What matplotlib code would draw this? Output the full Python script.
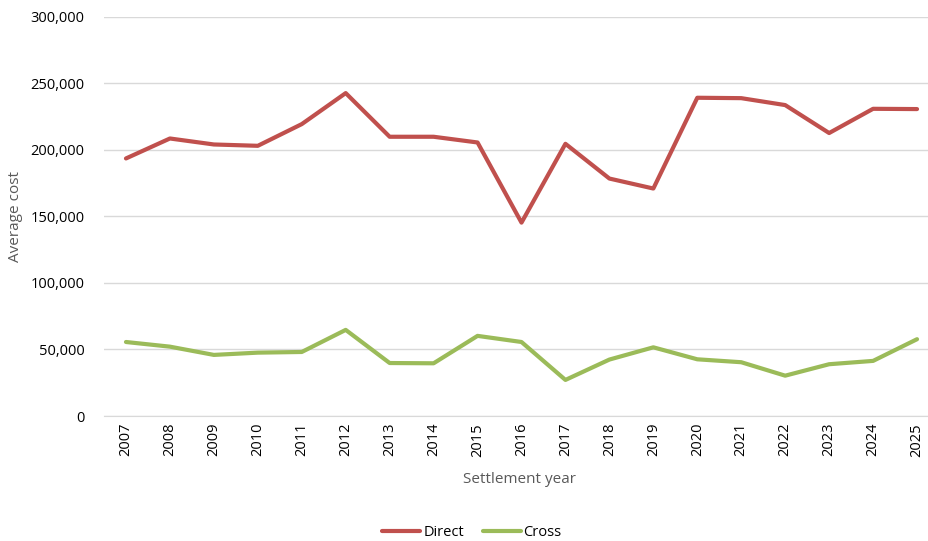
import matplotlib
matplotlib.use("Agg")
import matplotlib.pyplot as plt
from matplotlib.ticker import FuncFormatter

years = [2007, 2008, 2009, 2010, 2011, 2012, 2013, 2014, 2015, 2016,
         2017, 2018, 2019, 2020, 2021, 2022, 2023, 2024, 2025]
direct = [193500, 208500, 204000, 203000, 219300, 242600, 209800, 209800, 205500, 145300,
          204500, 178400, 170900, 239100, 238800, 233600, 212600, 230800, 230600]
cross = [55600, 52100, 45900, 47600, 48100, 64700, 39800, 39600, 60200, 55600,
         27100, 42400, 51600, 42600, 40400, 30300, 38900, 41400, 57700]
y_ticks = [0, 50000, 100000, 150000, 200000, 250000, 300000]

plt.rcParams['font.family'] = ['Open Sans', 'DejaVu Sans']
text_color = '#595959'

W, H = 929, 541
fig = plt.figure(figsize=(W / 100, H / 100), dpi=100)
left, right, top, bottom = 104, 939, 16.7, 416
ax = fig.add_axes([left / W, 1 - bottom / H, (right - left) / W, (bottom - top) / H])

ax.plot(years, direct, color='#C0504D', lw=3.0, label='Direct', solid_capstyle='round')
ax.plot(years, cross, color='#9BBB59', lw=3.0, label='Cross', solid_capstyle='round')

ax.set_xlim(2006.5, 2025.5)
ax.set_ylim(0, 300000)
ax.set_yticks(y_ticks)
ax.yaxis.set_major_formatter(FuncFormatter(lambda v, p: f"{int(v):,}"))
ax.set_xticks(years)
ax.set_xticklabels([str(y) for y in years], rotation=90)

ax.grid(axis='y', color='#D9D9D9', lw=1)
ax.set_axisbelow(True)
for s in ['top', 'right', 'left']:
    ax.spines[s].set_visible(False)
ax.spines['bottom'].set_color('#D9D9D9')
ax.tick_params(axis='both', length=0, labelsize=10.5, labelcolor='#000000')
ax.tick_params(axis='y', pad=14)
ax.tick_params(axis='x', pad=5)

ax.set_ylabel('Average cost', fontsize=11, color=text_color)
ax.yaxis.set_label_coords((23 - left) / (right - left), 0.5)
ax.set_xlabel('Settlement year', fontsize=11, color=text_color)
ax.xaxis.set_label_coords((520 - left) / (right - left), -(472 - bottom) / (bottom - top))

fig.legend(loc='center', bbox_to_anchor=(472 / W, 1 - 533 / H), ncol=2, frameon=False,
           fontsize=10.5, handlelength=2.6, columnspacing=1.3, handletextpad=0.2,
           labelcolor='#000000')

fig.savefig('out.png', dpi=100, facecolor='white')
